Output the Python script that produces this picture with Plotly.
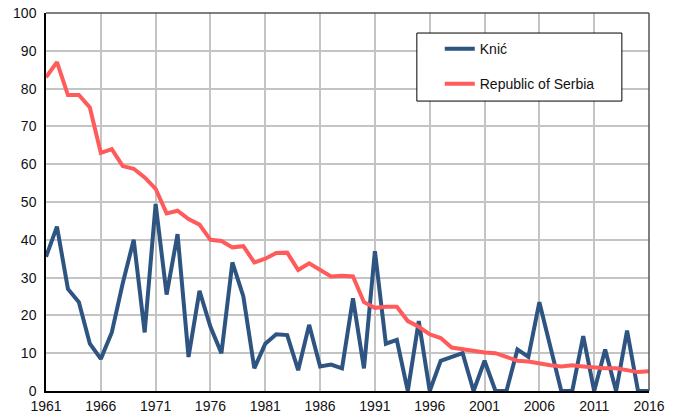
import plotly.graph_objects as go

years = list(range(1961, 2017))
knic = [35.5, 43.5, 27, 23.5, 12.5, 8.5, 15.5, 28.5, 40, 15.5,
        49.5, 25.5, 41.5, 9, 26.5, 17, 10, 34, 25, 6,
        12.5, 15, 14.8, 5.5, 17.5, 6.5, 7, 6, 24.5, 6,
        37, 12.5, 13.5, 0, 18.5, 0, 8, 9, 10, 0,
        8, 0, 0, 11, 9, 23.5, 11.5, 0, 0, 14.5,
        0, 11, 0, 16, 0, 0]
serbia = [83, 87, 78.3, 78.3, 75, 63, 64, 59.5, 58.8, 56.5,
          53.5, 47, 47.7, 45.5, 44, 40, 39.7, 38, 38.3, 34,
          35, 36.5, 36.6, 32, 33.8, 32, 30.3, 30.5, 30.3, 23.5,
          22, 22.3, 22.3, 18.5, 17, 15, 14, 11.5, 11, 10.5,
          10.2, 10, 9, 8, 7.8, 7.2, 6.8, 6.5, 6.8, 6.5,
          6.2, 6, 6, 5.6, 5, 5.2]
x_ticks = list(range(1961, 2017, 5))
y_ticks = list(range(0, 101, 10))

fig = go.Figure()
fig.add_trace(go.Scatter(x=years, y=knic, mode="lines", name="Knić",
                         line=dict(color="#2E5482", width=4), legendgroup="a"))
fig.add_trace(go.Scatter(x=years, y=serbia, mode="lines", name="Republic of Serbia",
                         line=dict(color="#FF5B5B", width=4), legendgroup="b"))

fig.update_layout(
    width=677, height=420,
    margin=dict(l=46, r=28, t=13, b=29, autoexpand=False),
    paper_bgcolor="white", plot_bgcolor="white",
    font=dict(family="Liberation Sans, Arial, sans-serif", size=14, color="#111111"),
    showlegend=True,
    legend=dict(x=0.653, y=0.947, xanchor="left", yanchor="top",
                bgcolor="rgba(0,0,0,0)", borderwidth=0,
                tracegroupgap=14, font=dict(size=14)),
    xaxis=dict(range=[1961, 2016], tickvals=x_ticks, ticktext=[str(v) for v in x_ticks],
               showgrid=True, gridcolor="#c4c4c4", gridwidth=1.5,
               showline=True, linecolor="#000000", linewidth=1.5, automargin=False,
               zeroline=False, ticks="outside", ticklen=1, tickcolor="rgba(0,0,0,0)",
               tickfont=dict(size=14)),
    yaxis=dict(range=[0, 100], tickvals=y_ticks, showgrid=True, gridcolor="#c4c4c4",
               gridwidth=1.5, showline=True, linecolor="#000000", linewidth=1.5,
               automargin=False, zeroline=False, ticks="outside", ticklen=5,
               tickcolor="rgba(0,0,0,0)", tickfont=dict(size=14)),
)
# top and right frame
fig.add_shape(type="line", xref="paper", yref="paper", x0=0, x1=1, y0=1, y1=1,
              line=dict(color="#555555", width=1.5))
fig.add_shape(type="line", xref="paper", yref="paper", x0=1, x1=1, y0=0, y1=1,
              line=dict(color="#555555", width=1.5))
# legend box
fig.add_shape(type="rect", xref="paper", yref="paper", x0=0.615, x1=0.955,
              y0=0.767, y1=0.947, line=dict(color="#000000", width=1),
              fillcolor="white", layer="above")

fig.write_html("out.html", config={"displayModeBar": False},
               post_script="document.body.style.margin='0';document.body.style.overflow='hidden';")
